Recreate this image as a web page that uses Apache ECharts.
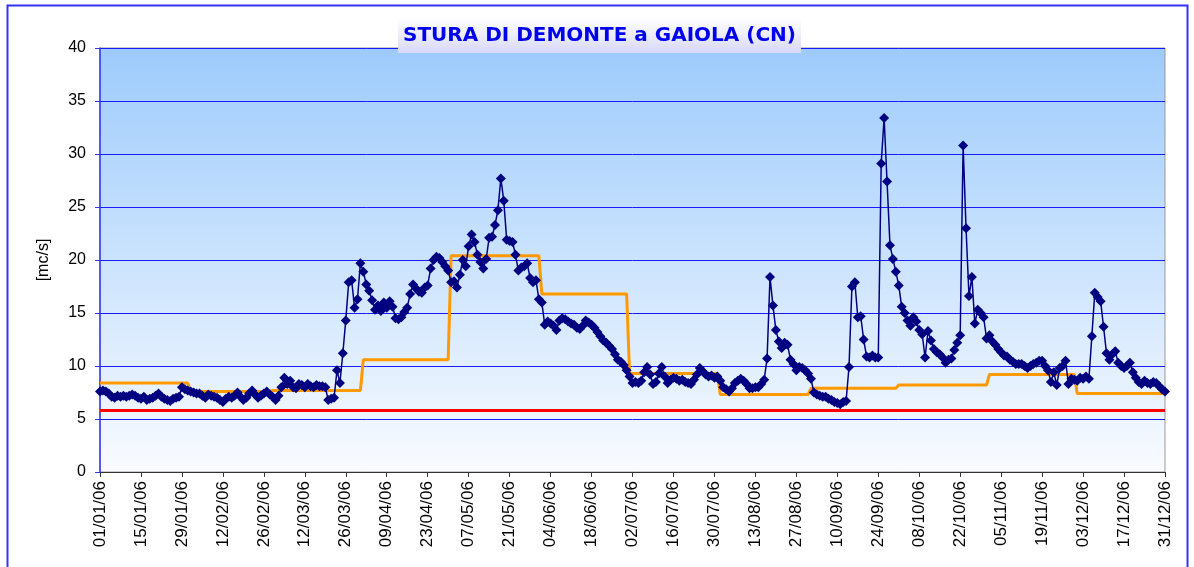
<!DOCTYPE html>
<html lang="it">
<head>
    <meta charset="UTF-8">
    <title>STURA DI DEMONTE a GAIOLA (CN)</title>
    <script src="https://cdn.jsdelivr.net/npm/echarts@6/dist/echarts.min.js"></script>
    <style>
        html, body { margin: 0; padding: 0; background: #fff; }
        #main { width: 1194px; height: 567px; }
    </style>
</head>
<body>
<div id="main"></div>
<script>
    // portate giornaliere [mc/s], un array per mese
    var gen = [7.6, 7.7, 7.6, 7.4, 7.1, 7.0, 7.2, 7.1, 7.2, 7.1, 7.2, 7.3, 7.2, 7.0, 6.9, 7.1, 6.8, 6.9, 7.0, 7.2, 7.4, 7.1, 6.9, 6.8, 6.7, 6.9, 7.0, 7.1, 8.0, 7.8, 7.7];
    var feb = [7.6, 7.5, 7.4, 7.4, 7.2, 7.0, 7.3, 7.2, 7.1, 7.0, 6.8, 6.6, 6.9, 7.1, 7.0, 7.2, 7.5, 7.1, 6.8, 7.0, 7.4, 7.7, 7.3, 7.0, 7.2, 7.4, 7.6, 7.3];
    var mar = [7.1, 6.8, 7.2, 8.0, 8.9, 8.3, 8.6, 8.0, 7.9, 8.3, 8.2, 8.0, 8.3, 8.1, 8.0, 8.2, 8.1, 8.1, 8.0, 6.8, 6.9, 7.0, 9.6, 8.4, 11.2, 14.3, 17.9, 18.1, 15.5, 16.3, 19.7];
    var apr = [18.9, 17.7, 17.1, 16.2, 15.3, 15.7, 15.2, 16.0, 15.5, 16.1, 15.6, 14.5, 14.4, 14.6, 15.1, 15.5, 16.8, 17.7, 17.3, 17.0, 16.9, 17.4, 17.6, 19.2, 20.0, 20.3, 20.2, 19.8, 19.4, 19.0];
    var mag = [17.9, 18.0, 17.4, 18.6, 20.0, 19.4, 21.3, 22.4, 21.7, 20.5, 19.8, 19.2, 20.1, 22.1, 22.2, 23.3, 24.7, 27.7, 25.6, 21.9, 21.8, 21.7, 20.5, 19.0, 19.3, 19.4, 19.7, 18.3, 17.9, 18.1, 16.3];
    var giu = [16.0, 13.9, 14.2, 14.0, 13.8, 13.4, 14.3, 14.5, 14.4, 14.2, 14.0, 13.9, 13.6, 13.5, 13.8, 14.3, 14.1, 13.9, 13.6, 13.2, 12.8, 12.4, 12.2, 11.9, 11.6, 11.1, 10.6, 10.4, 10.1, 9.6];
    var lug = [9.0, 8.4, 8.5, 8.4, 8.6, 9.4, 9.9, 9.2, 8.3, 8.5, 9.3, 9.9, 9.0, 8.4, 8.7, 8.9, 8.8, 8.6, 8.7, 8.5, 8.4, 8.3, 8.7, 9.2, 9.8, 9.5, 9.2, 9.0, 9.1, 8.9, 9.0];
    var ago = [8.6, 8.0, 7.8, 7.6, 7.9, 8.4, 8.6, 8.8, 8.6, 8.3, 7.9, 7.9, 8.0, 8.0, 8.3, 8.7, 10.7, 18.4, 15.7, 13.4, 12.3, 11.7, 12.2, 12.0, 10.6, 10.2, 9.6, 9.9, 9.8, 9.6, 9.3];
    var set = [8.8, 7.5, 7.3, 7.2, 7.1, 7.1, 6.9, 6.8, 6.6, 6.5, 6.4, 6.6, 6.7, 9.9, 17.5, 17.9, 14.6, 14.7, 12.5, 10.9, 10.8, 11.0, 10.8, 10.8, 29.1, 33.4, 27.4, 21.4, 20.1, 18.9];
    var ott = [17.6, 15.6, 15.0, 14.3, 13.8, 14.6, 14.2, 13.4, 13.0, 10.8, 13.3, 12.4, 11.6, 11.3, 11.1, 10.8, 10.3, 10.6, 10.7, 11.5, 12.2, 12.9, 30.8, 23.0, 16.6, 18.4, 14.0, 15.3, 15.0, 14.6, 12.6];
    var nov = [12.9, 12.3, 12.0, 11.6, 11.3, 11.0, 10.9, 10.6, 10.4, 10.2, 10.2, 10.2, 10.0, 9.8, 10.0, 10.2, 10.3, 10.5, 10.5, 10.0, 9.6, 8.5, 9.4, 8.2, 9.8, 10.0, 10.5, 8.3, 8.8, 8.7];
    var dic = [8.6, 8.9, 8.8, 9.0, 8.8, 12.8, 16.9, 16.5, 16.1, 13.7, 11.2, 10.6, 11.1, 11.4, 10.3, 10.0, 9.8, 10.0, 10.3, 9.4, 8.9, 8.5, 8.3, 8.6, 8.4, 8.3, 8.5, 8.4, 8.1, 7.8, 7.6];

    // media mensile (linea arancione) e DMV (linea rossa)
    var mediaMensile = [8.4, 7.6, 7.7, 10.6, 20.4, 16.8, 9.3, 7.3, 7.9, 8.2, 9.2, 7.4];
    var dmv = 5.8;

    var mesi = [gen, feb, mar, apr, mag, giu, lug, ago, set, ott, nov, dic];
    var portata = [];
    var media = [];
    for (var m = 0; m < mesi.length; m++) {
        for (var i = 0; i < mesi[m].length; i++) {
            portata.push(mesi[m][i]);
            media.push(mediaMensile[m]);
        }
    }
    var soglia = portata.map(function () { return dmv; });

    // date dd/mm/yy per l'asse x
    var giorni = [];
    for (var d = 0; d < portata.length; d++) {
        var dt = new Date(2006, 0, 1 + d);
        var dd = ('0' + dt.getDate()).slice(-2);
        var mm = ('0' + (dt.getMonth() + 1)).slice(-2);
        giorni.push(dd + '/' + mm + '/06');
    }

    var myChart = echarts.init(document.getElementById('main'));

    var option = {
        backgroundColor: '#ffffff',
        animation: false,
        title: {
            text: 'STURA DI DEMONTE a GAIOLA (CN)',
            left: 398,
            top: 18,
            padding: [8, 5, 7, 5],
            backgroundColor: new echarts.graphic.LinearGradient(0, 0, 0, 1, [
                {offset: 0, color: '#ffffff'},
                {offset: 1, color: '#d8d8fa'}
            ]),
            textStyle: {
                color: '#0000ee',
                fontFamily: 'DejaVu Sans, sans-serif',
                fontWeight: 'bold',
                fontSize: 20
            },
            z: 10
        },
        graphic: [{
            type: 'rect',
            shape: {x: 7.5, y: 5.5, width: 1180, height: 570},
            style: {fill: 'none', stroke: '#3333ff', lineWidth: 2},
            silent: true
        }],
        grid: {
            left: 100,
            top: 48,
            right: 29,
            bottom: 95,
            show: true,
            borderColor: '#999999',
            borderWidth: 1,
            backgroundColor: new echarts.graphic.LinearGradient(0, 0, 0, 1, [
                {offset: 0, color: '#9dcbfc'},
                {offset: 1, color: '#f9fbff'}
            ])
        },
        xAxis: {
            type: 'category',
            data: giorni,
            boundaryGap: false,
            axisLine: {lineStyle: {color: '#333333', width: 1}},
            axisTick: {show: true, interval: 13, length: 5, lineStyle: {color: '#333333'}},
            axisLabel: {
                interval: 13,
                rotate: 90,
                color: '#000000',
                fontFamily: 'Liberation Sans, Arial, sans-serif',
                fontSize: 17,
                margin: 9
            },
            splitLine: {show: false}
        },
        yAxis: {
            type: 'value',
            min: 0,
            max: 40,
            interval: 5,
            name: '[mc/s]',
            nameLocation: 'middle',
            nameGap: 48,
            nameRotate: 90,
            nameTextStyle: {
                color: '#000000',
                fontFamily: 'Liberation Sans, Arial, sans-serif',
                fontSize: 16
            },
            axisLine: {show: true, lineStyle: {color: '#3333ff', width: 1.5}},
            axisTick: {show: true, length: 5, lineStyle: {color: '#3333ff'}},
            axisLabel: {
                color: '#000000',
                fontFamily: 'Liberation Sans, Arial, sans-serif',
                fontSize: 16,
                margin: 14
            },
            splitLine: {lineStyle: {color: '#1a1aff', width: 1}}
        },
        series: [
            {
                name: 'DMV',
                type: 'line',
                data: soglia,
                symbol: 'none',
                lineStyle: {color: '#ff0000', width: 3},
                z: 2
            },
            {
                name: 'Media mensile',
                type: 'line',
                data: media,
                symbol: 'none',
                lineStyle: {color: '#ff9900', width: 3},
                z: 3
            },
            {
                name: 'Portata',
                type: 'line',
                data: portata,
                symbol: 'diamond',
                symbolSize: 10,
                showAllSymbol: true,
                itemStyle: {color: '#000080'},
                lineStyle: {color: '#000080', width: 1.5},
                z: 4
            }
        ]
    };

    myChart.setOption(option);
</script>
</body>
</html>
